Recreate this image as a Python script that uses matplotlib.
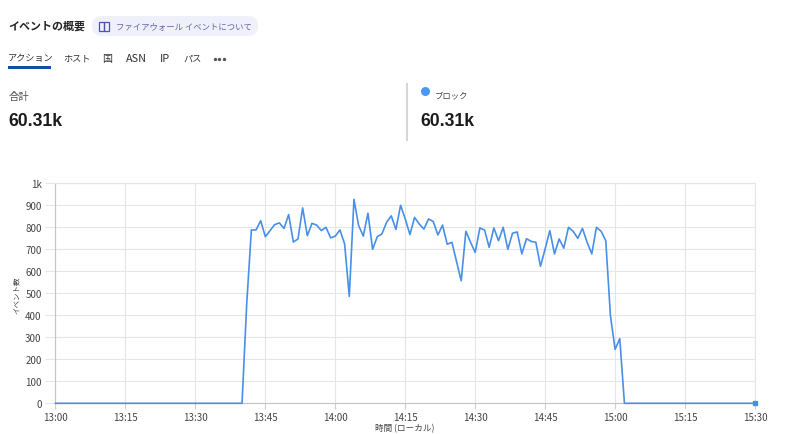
import matplotlib
matplotlib.use("Agg")
import matplotlib.pyplot as plt
from matplotlib.patches import FancyBboxPatch, Rectangle

plt.rcParams['font.family'] = ['Noto Sans CJK JP', 'DejaVu Sans']

zeros_before = [0] * 41
busy_values = [450, 788, 788, 830, 757, 785, 812, 820, 795, 858,
               733, 747, 888, 762, 818, 810, 785, 800, 752, 760,
               788, 724, 486, 927, 808, 760, 864, 700, 757, 770,
               823, 852, 790, 900, 838, 767, 845, 815, 792, 838,
               826, 765, 810, 723, 732, 645, 557, 782, 732, 686,
               797, 788, 709, 797, 739, 800, 700, 773, 779, 679,
               748, 736, 732, 623, 702, 785, 679, 747, 705, 800,
               782, 750, 795, 732, 679, 800, 782, 739, 398, 245,
               294]
zeros_after = [0] * 29
events = zeros_before + busy_values + zeros_after
minutes = list(range(len(events)))

x_ticks = [0, 15, 30, 45, 60, 75, 90, 105, 120, 135, 150]
x_labels = ['13:00', '13:15', '13:30', '13:45', '14:00', '14:15', '14:30',
            '14:45', '15:00', '15:15', '15:30']
y_ticks = [0, 100, 200, 300, 400, 500, 600, 700, 800, 900, 1000]
y_labels = ['0', '100', '200', '300', '400', '500', '600', '700', '800', '900', '1k']
# label, left pixel, font size
tabs = [('アクション', 8, 6.6), ('ホスト', 63, 6.6), ('国', 102, 7.2),
        ('ASN', 126, 7.8), ('IP', 160, 7.8), ('パス', 183, 6.6)]

W, H = 787, 435
fig = plt.figure(figsize=(W / 100, H / 100), dpi=100, facecolor='white')

# page furniture, drawn in pixel coordinates
ui = fig.add_axes([0, 0, 1, 1])
ui.set_xlim(0, W)
ui.set_ylim(H, 0)
ui.axis('off')

ui.text(8, 27, 'イベントの概要', fontsize=7.9, fontweight='bold', color='#242424', va='center')
ui.add_patch(FancyBboxPatch((92, 17), 166, 20, boxstyle='round,pad=0,rounding_size=10',
                            fc='#f0f0fa', ec='none'))
# book icon
ui.add_patch(Rectangle((98.5, 23), 5, 9, fc='none', ec='#4f52b2', lw=0.9))
ui.add_patch(Rectangle((103.5, 23), 5, 9, fc='none', ec='#4f52b2', lw=0.9))
ui.text(116.5, 27, 'ファイアウォール イベントについて', fontsize=6, color='#6264a7', va='center')

for label, px, size in tabs:
    ui.text(px, 59, label, fontsize=size, color='#333333', va='center')
ui.add_patch(Rectangle((8, 67), 43, 3, fc='#0f4fa8', ec='none'))
for px in (214.5, 219, 223.5):
    ui.plot(px, 60, 'o', ms=1.4, color='#555555')

ui.text(9, 97, '合計', fontsize=7.5, color='#555555', va='center')
ui.text(8.5, 121, '60.31k', fontsize=12.7, fontweight='bold', color='#1b1b1b', va='center',
        family=['Liberation Sans', 'DejaVu Sans'])

ui.plot([407, 407], [85, 141], color='#d6d6d6', lw=1.5)
ui.plot(424.5, 92, 'o', ms=6.5, color='#4a98f5', mec='none')
ui.text(435, 96, 'ブロック', fontsize=6, color='#444444', va='center')
ui.text(420.5, 121, '60.31k', fontsize=12.7, fontweight='bold', color='#1b1b1b', va='center',
        family=['Liberation Sans', 'DejaVu Sans'])

# chart
left, right, top, bottom = 55.5, 755, 184.3, 404.3
ax = fig.add_axes([left / W, 1 - bottom / H, (right - left) / W, (bottom - top) / H])
ax.patch.set_alpha(0)
ax.plot(minutes, events, color='#4a8fe7', lw=1.2, clip_on=False, zorder=3)
ax.plot(minutes[-1], events[-1], 's', ms=3, color='#4a8fe7', clip_on=False, zorder=4)

ax.set_xlim(0, 150)
ax.set_ylim(0, 1000)
ax.set_xticks(x_ticks)
ax.set_xticklabels(x_labels)
ax.set_yticks(y_ticks)
ax.set_yticklabels(y_labels)
ax.grid(True, color='#e6e6e6', lw=0.8)
ax.set_axisbelow(True)
ax.tick_params(axis='y', length=7, width=0.8, color='#e6e6e6', labelsize=7, labelcolor='#444444', pad=3)
ax.tick_params(axis='x', length=4, width=0.8, color='#d0d0d0', labelsize=7, labelcolor='#444444', pad=2)
for name in ('top', 'right'):
    ax.spines[name].set_color('#e6e6e6')
for name in ('left', 'bottom'):
    ax.spines[name].set_color('#c4c4c4')

ui.text(17, 295, 'イベント数', fontsize=5.4, color='#444444', rotation=90, va='center', ha='center')
ui.text(405, 429, '時間 (ローカル)', fontsize=6.2, color='#444444', va='center', ha='center')

fig.savefig('out.png', dpi=100)
